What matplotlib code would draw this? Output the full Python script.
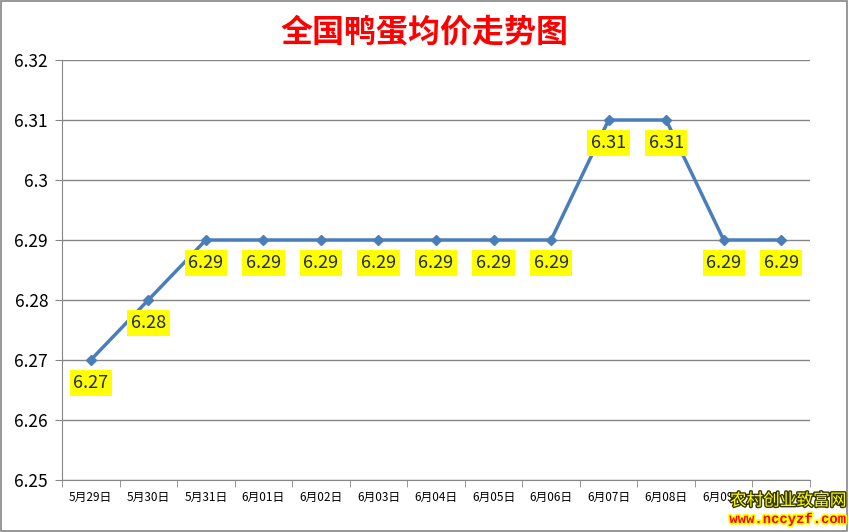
import matplotlib
matplotlib.use("Agg")
import matplotlib.pyplot as plt
import matplotlib.patheffects as pe

plt.rcParams['font.family'] = ['Noto Sans CJK SC', 'DejaVu Sans']

DATES = ["5月29日", "5月30日", "5月31日", "6月01日", "6月02日", "6月03日", "6月04日",
         "6月05日", "6月06日", "6月07日", "6月08日", "6月09日", "6月10日"]
PRICES = [6.27, 6.28, 6.29, 6.29, 6.29, 6.29, 6.29, 6.29, 6.29, 6.31, 6.31, 6.29, 6.29]
YTICKS = [6.25, 6.26, 6.27, 6.28, 6.29, 6.30, 6.31, 6.32]
YLABELS = ["6.25", "6.26", "6.27", "6.28", "6.29", "6.3", "6.31", "6.32"]
TITLE = "全国鸭蛋均价走势图"
LINE_COL = "#4A7EBB"

fig = plt.figure(figsize=(8.49, 5.32), dpi=100)
ax = fig.add_axes([62 / 849, 52 / 532, 748 / 849, 420 / 532])
x = list(range(len(DATES)))
ax.plot(x, PRICES, "-D", color=LINE_COL, lw=2.5, ms=5.5, zorder=3)
for xi, v in zip(x, PRICES):
    ax.annotate(f"{v:g}", (xi, v), xytext=(0, -23), textcoords="offset pixels",
                ha="center", va="center", fontsize=13, color="#1F2A44", zorder=4,
                bbox=dict(boxstyle="square,pad=0.2", fc="#FFFF00", ec="none"))

ax.set_xlim(-0.5, len(DATES) - 0.5)
ax.set_ylim(6.25, 6.32)
ax.set_yticks(YTICKS)
ax.set_yticklabels(YLABELS, fontsize=12.5)
ax.set_xticks(x)
ax.set_xticklabels(DATES, fontsize=8.5)
ax.set_xticks([i - 0.5 for i in range(len(DATES) + 1)], minor=True)
ax.tick_params(axis="x", which="major", length=0, pad=8)
ax.tick_params(axis="x", which="minor", length=5, color="#868686")
ax.tick_params(axis="y", length=5, color="#868686", pad=5)
ax.grid(axis="y", color="#868686", lw=1)
for s in ["top", "right"]:
    ax.spines[s].set_visible(False)
for s in ["left", "bottom"]:
    ax.spines[s].set_color("#868686")

fig.text(0.5, 1 - 32 / 532, TITLE, ha="center", va="center", fontsize=23,
         fontweight="bold", color="#FF0000")

# watermark (white backing hides the last tick labels as in the source image)
fig.patches.append(plt.Rectangle((733 / 849, 3 / 532), 112 / 849, 40 / 532,
                                 transform=fig.transFigure, fc="white", ec="none", zorder=5))
fig.text(788 / 849, 1 - 501 / 532, "农村创业致富网", ha="center", va="center", fontsize=12,
         color="#FFFF00", zorder=6, path_effects=[pe.withStroke(linewidth=2, foreground="#333300")])
fig.text(788 / 849, 1 - 519 / 532, "www.nccyzf.com", ha="center", va="center", fontsize=10,
         fontweight="bold", family="Liberation Mono", color="#FF0000", zorder=6,
         path_effects=[pe.withStroke(linewidth=2.5, foreground="#FFFF00")])

fig.patches.append(plt.Rectangle((0.001, 0.001), 0.997, 0.997, transform=fig.transFigure,
                                 fill=False, ec="#868686", lw=1.2))
fig.savefig("out.png", dpi=100)
